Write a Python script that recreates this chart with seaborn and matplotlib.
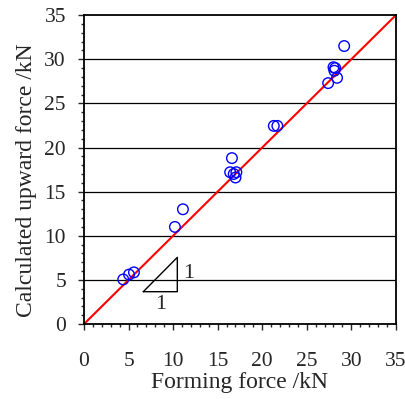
import numpy as np
import pandas as pd
import seaborn as sns
import matplotlib.pyplot as plt
from matplotlib.ticker import MultipleLocator

# forming force vs calculated upward force (kN)
forming = [4.4, 5.05, 5.6, 10.2, 11.1, 16.6, 16.4, 16.8, 17.1, 17.0,
           21.3, 21.7, 27.4, 28.0, 28.2, 28.1, 28.4, 29.2]
upward = [5.05, 5.6, 5.85, 11.0, 13.0, 18.8, 17.2, 17.0, 17.2, 16.6,
          22.45, 22.45, 27.3, 29.1, 29.0, 28.7, 27.9, 31.5]
ref_line = [0, 35]

# slope triangle (1:1)
tri_x = [6.65, 10.47, 10.47, 6.65]
tri_y = [3.66, 3.66, 7.55, 3.66]

df = pd.DataFrame({"forming": forming, "upward": upward})

sns.set_style("ticks")
plt.rcParams['font.family'] = ['Liberation Serif', 'DejaVu Serif']

fig = plt.figure(figsize=(4.06, 3.99), dpi=100)
ax = fig.add_axes([0.207, 0.188, 0.768, 0.774])

# horizontal grid lines only
for yv in range(5, 35, 5):
    ax.axhline(yv, color='black', lw=0.9, zorder=0)

sns.lineplot(x=ref_line, y=ref_line, color='red', lw=1.5, ax=ax, zorder=2)
sns.scatterplot(data=df, x="forming", y="upward", ax=ax, marker='o', s=58,
                facecolors='none', edgecolor='blue', linewidth=1.0, zorder=3)

ax.plot(tri_x, tri_y, color='black', lw=1.0)
ax.text(11.7, 5.75, "1", fontsize=16, ha='center', va='center')
ax.text(8.65, 2.2, "1", fontsize=16, ha='center', va='center')

ax.set_xlim(0, 35)
ax.set_ylim(0, 35)
ax.xaxis.set_major_locator(MultipleLocator(5))
ax.yaxis.set_major_locator(MultipleLocator(5))
ax.xaxis.set_minor_locator(MultipleLocator(1))
ax.yaxis.set_minor_locator(MultipleLocator(1))
ax.tick_params(which='major', direction='out', length=4, width=1.0, labelsize=15.5)
ax.tick_params(which='minor', direction='out', length=2.5, width=1.0)
ax.tick_params(axis='x', which='major', pad=16)
ax.tick_params(axis='y', which='major', pad=9)

for sp in ax.spines.values():
    sp.set_linewidth(1.3)
    sp.set_color('black')

ax.set_xlabel("Forming force /kN", fontsize=17, labelpad=1)
ax.set_ylabel("Calculated upward force /kN", fontsize=17, labelpad=5)
ax.yaxis.label.set_y(0.465)

fig.savefig("out.png", dpi=100)
